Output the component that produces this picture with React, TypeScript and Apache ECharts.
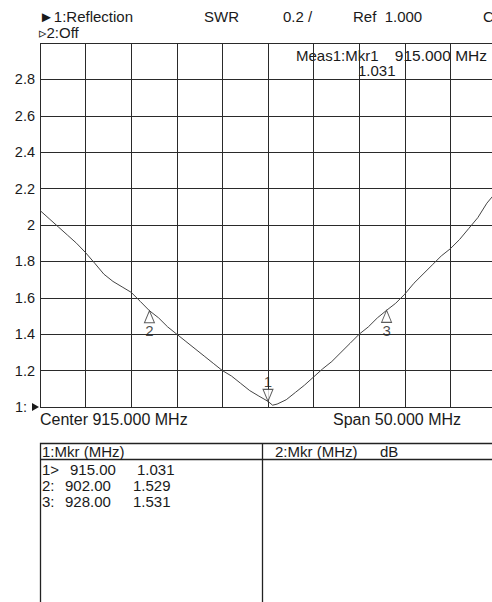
import React, { useEffect, useRef } from "react";
import * as echarts from "echarts";

const freqs = [890, 891, 892, 893, 894, 895, 896, 897, 898, 899, 900, 901, 902, 903, 904, 905, 906, 907, 908, 909, 910, 911, 912, 913, 914, 915, 915.5, 916, 917, 918, 919, 920, 921, 922, 923, 924, 925, 926, 927, 928, 929, 930, 931, 932, 933, 934, 935, 936, 937, 938, 939, 940];
const swr = [2.08, 2.035, 1.99, 1.945, 1.9, 1.848, 1.79, 1.73, 1.69, 1.66, 1.63, 1.58, 1.529, 1.49, 1.44, 1.4, 1.36, 1.32, 1.28, 1.24, 1.2, 1.17, 1.13, 1.09, 1.06, 1.031, 1.01, 1.016, 1.04, 1.08, 1.12, 1.165, 1.21, 1.25, 1.3, 1.35, 1.4, 1.44, 1.49, 1.531, 1.57, 1.62, 1.68, 1.73, 1.78, 1.83, 1.87, 1.92, 1.98, 2.04, 2.12, 2.18];

const markerIds = ["1", "2", "3"];
const markerFreqs = [915, 902, 928];
const markerVals = [1.031, 1.529, 1.531];
const markerDown = [true, false, false];

const yMin = 1;
const yMax = 3;
const yStep = 0.2;
const xMin = 890;
const xMax = 940;
const xStep = 5;

const tableRows = [
  ["1>", "915.00", "1.031"],
  ["2:", "902.00", "1.529"],
  ["3:", "928.00", "1.531"],
];

const FONT = '"Liberation Sans", Arial, "DejaVu Sans", sans-serif';
const INK = "#1a1a1a";

export default function App() {
  const ref = useRef<HTMLDivElement>(null);
  useEffect(() => {
    if (!ref.current) return;
    const chart = echarts.init(ref.current, undefined, { renderer: "svg" });
    const txt = (text: string, x: number, y: number, size = 15, align = "left", weight = "normal") => ({
      type: "text",
      x,
      y,
      silent: true,
      style: {
        text,
        fill: INK,
        font: `${weight} ${size}px ${FONT}`,
        textAlign: align,
        textVerticalAlign: "middle",
      },
    });
    const rowYs = [469, 485.5, 501.5];
    const rowTexts: any[] = [];
    tableRows.forEach((r, i) => {
      rowTexts.push(txt(r[0], 42, rowYs[i], 15));
      rowTexts.push(txt(r[1], i === 0 ? 70 : 65, rowYs[i], 15));
      rowTexts.push(txt(r[2], i === 0 ? 137 : 133, rowYs[i], 15));
    });
    chart.setOption({
      animation: false,
      grid: { left: 40, top: 43, width: 456, height: 364, containLabel: false },
      xAxis: {
        type: "value",
        min: xMin,
        max: xMax,
        interval: xStep,
        axisLine: { show: false },
        axisTick: { show: false },
        axisLabel: { show: false },
        splitLine: { show: true, lineStyle: { color: "#2a2a2a", width: 1 } },
      },
      yAxis: {
        type: "value",
        min: yMin,
        max: yMax,
        interval: yStep,
        axisLine: { show: false },
        axisTick: { show: false },
        axisLabel: {
          margin: 5,
          color: INK,
          fontSize: 14.5,
          fontFamily: FONT,
          formatter: (v: number) => {
            const r = Math.round(v * 10) / 10;
            if (r === yMax) return "";
            if (r === yMin) return "{one|1:}";
            return String(r);
          },
          rich: {
            one: { fontSize: 14.5, fontFamily: FONT, color: INK, padding: [0, 8, 0, 0] },
          },
        },
        splitLine: { show: true, lineStyle: { color: "#2a2a2a", width: 1 } },
      },
      series: [
        {
          type: "line",
          data: freqs.map((f, i) => [f, swr[i]]),
          showSymbol: false,
          lineStyle: { color: "#444", width: 1 },
          silent: true,
          z: 3,
        },
        {
          type: "scatter",
          z: 4,
          silent: true,
          data: markerFreqs.map((f, i) => ({
            value: [f, markerVals[i]],
            symbol: "triangle",
            symbolSize: [10, 12],
            symbolRotate: markerDown[i] ? 180 : 0,
            symbolOffset: markerDown[i] ? [0, -6] : [0, 6],
            label: {
              show: true,
              formatter: markerIds[i],
              position: markerDown[i] ? "top" : "bottom",
              distance: 0,
              color: INK,
              fontSize: 15,
              fontFamily: FONT,
            },
          })),
          itemStyle: { color: "#fff", borderColor: "#333", borderWidth: 1 },
        },
      ],
      graphic: [
        txt("\u25BA1:Reflection", 39, 16),
        txt("\u25B92:Off", 39, 32.5),
        txt("SWR", 204, 16),
        txt("0.2 /", 283, 16),
        txt("Ref  1.000", 353, 16),
        txt("C", 483, 16),
        txt("Meas1:Mkr1", 296, 55),
        txt("915.000 MHz", 487, 55, 15.5, "right"),
        txt("1.031", 358, 70),
        txt("Center 915.000 MHz", 40, 419.5, 16),
        txt("Span 50.000 MHz", 333, 419.5, 16),
        {
          type: "polygon",
          silent: true,
          shape: { points: [[32, 403], [39, 407], [32, 411]] },
          style: { fill: INK },
        },
        {
          type: "rect",
          silent: true,
          shape: { x: 40.5, y: 443.5, width: 480, height: 180 },
          style: { fill: "none", stroke: "#222", lineWidth: 1.3 },
        },
        {
          type: "line",
          silent: true,
          shape: { x1: 40.5, y1: 459.5, x2: 520, y2: 459.5 },
          style: { stroke: "#222", lineWidth: 1.3 },
        },
        {
          type: "line",
          silent: true,
          shape: { x1: 262.5, y1: 443.5, x2: 262.5, y2: 620 },
          style: { stroke: "#222", lineWidth: 1.3 },
        },
        txt("1:Mkr (MHz)", 42, 451.5, 15),
        txt("2:Mkr (MHz)", 275, 451.5, 15),
        txt("dB", 380, 451.5, 15),
        ...rowTexts,
      ],
    });
    return () => chart.dispose();
  }, []);
  return (
    <div style={{ position: "absolute", left: 0, top: 0, width: 492, height: 602, overflow: "hidden", background: "#fff" }}>
      <div ref={ref} style={{ width: 540, height: 602 }} />
    </div>
  );
}
